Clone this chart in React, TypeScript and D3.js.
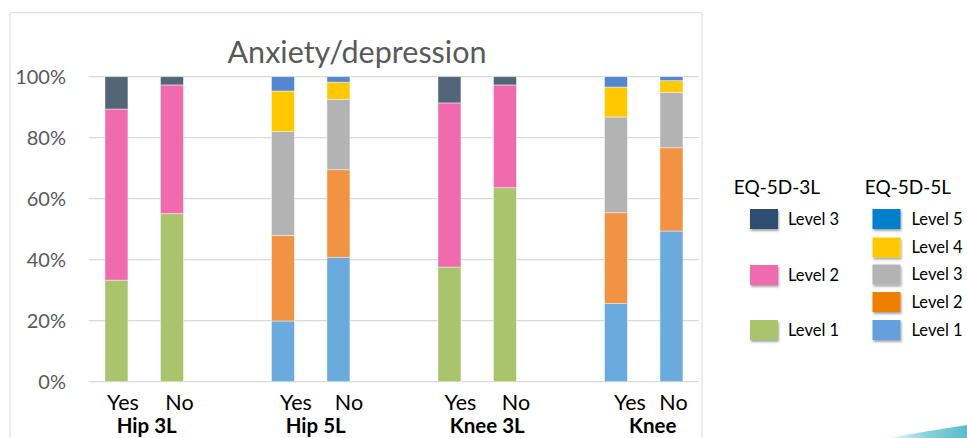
import React from "react";
import * as d3 from "d3";

const slots = ["h3y", "h3n", "g1", "h5y", "h5n", "g2", "k3y", "k3n", "g3", "k5y", "k5n"];
const slotLabels = ["Yes", "No", "", "Yes", "No", "", "Yes", "No", "", "Yes", "No"];
const groupNames = ["Hip 3L", "Hip 5L", "Knee 3L", "Knee"];
const groupSlots = [["h3y", "h3n"], ["h5y", "h5n"], ["k3y", "k3n"], ["k5y", "k5n"]];

// EQ-5D-3L bars: Hip Yes, Hip No, Knee Yes, Knee No
const bars3L = ["h3y", "h3n", "k3y", "k3n"];
const l3_level1 = [33.3, 55.1, 37.6, 63.6];
const l3_level2 = [56.1, 42.2, 53.8, 33.7];
const l3_level3 = [10.6, 2.7, 8.6, 2.7];

// EQ-5D-5L bars: Hip Yes, Hip No, Knee Yes, Knee No
const bars5L = ["h5y", "h5n", "k5y", "k5n"];
const l5_level1 = [19.9, 40.8, 25.6, 49.4];
const l5_level2 = [28.0, 28.7, 29.8, 27.3];
const l5_level3 = [34.1, 23.1, 31.4, 18.2];
const l5_level4 = [13.3, 5.6, 9.8, 3.8];
const l5_level5 = [4.7, 1.8, 3.4, 1.3];

const yTicks = [0, 20, 40, 60, 80, 100];

const colors3L = ["#A9C46C", "#F06AAE", "#536579"];
const colors5L = ["#6AAADD", "#F29243", "#B3B3B3", "#FFC800", "#5587D0"];
const legend3L = [
  { label: "Level 3", color: "#2F4E73", row: 0 },
  { label: "Level 2", color: "#F06AAE", row: 2 },
  { label: "Level 1", color: "#A9C46C", row: 4 },
];
const legend5L = [
  { label: "Level 5", color: "#0080CC" },
  { label: "Level 4", color: "#FFC800" },
  { label: "Level 3", color: "#B3B3B3" },
  { label: "Level 2", color: "#EE7F00" },
  { label: "Level 1", color: "#66A0DC" },
];

const FONT = "Lato, 'Open Sans', sans-serif";

// layout nudges for category text (as rendered in the original)
const slotLabelShift = [6.5, 7.5, 0, 13, 10.5, 0, 11, 11, 0, 14, 2];
const groupLabelShift = [2.5, 5, 10, 9];

export default function App() {
  const W = 967, H = 438;
  const x = d3.scaleBand<string>().domain(slots).range([88.7, 699.2]).paddingInner(0.586).paddingOuter(0.293);
  const y = d3.scaleLinear().domain([0, 100]).range([381.7, 76.7]);

  const rows3 = bars3L.map((k, i) => ({ key: k, a: l3_level1[i], b: l3_level2[i], c: l3_level3[i] }));
  const rows5 = bars5L.map((k, i) => ({ key: k, a: l5_level1[i], b: l5_level2[i], c: l5_level3[i], d: l5_level4[i], e: l5_level5[i] }));
  const stack3 = d3.stack<any>().keys(["a", "b", "c"])(rows3);
  const stack5 = d3.stack<any>().keys(["a", "b", "c", "d", "e"])(rows5);

  const renderStack = (st: any[], cols: string[], prefix: string) =>
    st.map((layer, li) =>
      layer.map((seg: any, si: number) => (
        <rect
          key={`${prefix}-${li}-${si}`}
          x={x(seg.data.key)}
          width={x.bandwidth()}
          y={y(seg[1])}
          height={y(seg[0]) - y(seg[1])}
          fill={cols[li]}
          stroke="rgba(255,255,255,0.55)"
          strokeWidth={0.8}
        />
      ))
    );

  const lg3Y = [209, 237, 265, 292.5, 320];
  const lg5Y = [209, 237.5, 264.5, 292, 320];

  return (
    <svg width={W} height={H} style={{ position: "absolute", left: 0, top: 0, background: "#fff" }} fontFamily={FONT}>
      <defs>
        <filter id="sh" x="-30%" y="-30%" width="160%" height="180%">
          <feDropShadow dx="1" dy="2" stdDeviation="1.3" floodColor="#000" floodOpacity="0.35" />
        </filter>
        <linearGradient id="teal" x1="0" x2="1" y1="0" y2="0">
          <stop offset="0" stopColor="#5BBCCB" stopOpacity="0" />
          <stop offset="0.5" stopColor="#5BBCCB" stopOpacity="0.7" />
          <stop offset="1" stopColor="#5BBCCB" stopOpacity="1" />
        </linearGradient>
      </defs>
      <rect x={10} y={12.7} width={692} height={440} fill="#fff" stroke="#D9D9D9" strokeWidth={1} />
      <text x={357} y={63} textAnchor="middle" fontSize={30.5} fill="#595959">Anxiety/depression</text>
      {yTicks.map((t) => (
        <g key={t}>
          <line x1={88.7} x2={699.2} y1={y(t)} y2={y(t)} stroke="#D9D9D9" strokeWidth={1.2} />
          <text x={66} y={y(t)} dy="0.36em" textAnchor="end" fontSize={20} fill="#595959">{t}%</text>
        </g>
      ))}
      {renderStack(stack3, colors3L, "s3")}
      {renderStack(stack5, colors5L, "s5")}
      {slots.map((s, i) =>
        slotLabels[i] ? (
          <text key={s} x={(x(s) as number) + x.bandwidth() / 2 + slotLabelShift[i]} y={409.5} textAnchor="middle" fontSize={21.5} fill="#000">
            {slotLabels[i]}
          </text>
        ) : null
      )}
      {groupNames.map((g, i) => {
        const cx = ((x(groupSlots[i][0]) as number) + (x(groupSlots[i][1]) as number) + x.bandwidth()) / 2;
        return (
          <text key={g} x={cx + groupLabelShift[i]} y={433} textAnchor="middle" fontSize={20.5} fontWeight="bold" fill="#000">{g}</text>
        );
      })}
      <text x={777} y={194} textAnchor="middle" fontSize={19} fill="#000">EQ-5D-3L</text>
      <text x={908} y={194} textAnchor="middle" fontSize={19} fill="#000">EQ-5D-5L</text>
      {legend3L.map((l) => (
        <g key={"l3" + l.label}>
          <rect x={750} y={lg3Y[l.row]} width={28} height={20} fill={l.color} filter="url(#sh)" />
          <text x={788} y={lg3Y[l.row] + 10} dy="0.36em" fontSize={16.5} fill="#000">{l.label}</text>
        </g>
      ))}
      {legend5L.map((l, i) => (
        <g key={"l5" + l.label}>
          <rect x={872.5} y={lg5Y[i]} width={28} height={20} fill={l.color} filter="url(#sh)" />
          <text x={911.5} y={lg5Y[i] + 10} dy="0.36em" fontSize={16.5} fill="#000">{l.label}</text>
        </g>
      ))}
      <polygon points="885,438 967,425 967,438" fill="url(#teal)" />
    </svg>
  );
}
